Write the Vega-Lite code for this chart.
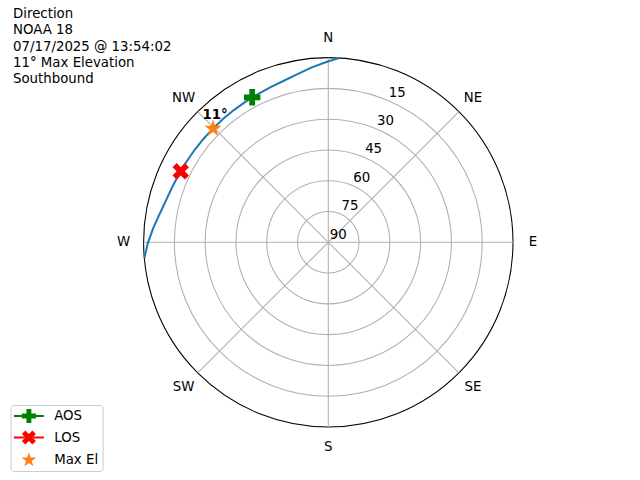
{
  "$schema": "https://vega.github.io/schema/vega-lite/v6.json",
  "width": 369.4,
  "height": 369.4,
  "autosize": {"type": "none"},
  "padding": {"left": 143.6, "top": 57.6, "right": 127, "bottom": 53},
  "background": "white",
  "config": {"view": {"stroke": null}, "font": "DejaVu Sans"},
  "title": {
    "text": ["Direction", "NOAA 18", "07/17/2025 @ 13:54:02", "11° Max Elevation", "Southbound"],
    "anchor": "start",
    "frame": "group",
    "font": "DejaVu Sans",
    "fontSize": 13.33,
    "fontWeight": "normal",
    "color": "black",
    "lineHeight": 16.3,
    "baseline": "top",
    "dx": -130.6,
    "dy": 55,
    "offset": 0
  },
  "datasets": {
    "rings": [{"el": 15, "k": "grid"}, {"el": 30, "k": "grid"}, {"el": 45, "k": "grid"}, {"el": 60, "k": "grid"}, {"el": 75, "k": "grid"}, {"el": 0, "k": "spine"}],
    "spokes": [{"az": 0}, {"az": 45}, {"az": 90}, {"az": 135}, {"az": 180}, {"az": 225}, {"az": 270}, {"az": 315}],
    "compass": [
      {"az": 0, "t": "N"}, {"az": 45, "t": "NE"}, {"az": 90, "t": "E"}, {"az": 135, "t": "SE"},
      {"az": 180, "t": "S"}, {"az": 225, "t": "SW"}, {"az": 270, "t": "W"}, {"az": 315, "t": "NW"}
    ],
    "radial": [{"el": 15}, {"el": 30}, {"el": 45}, {"el": 60}, {"el": 75}, {"el": 90}],
    "track": [
      {"i": 0, "az": 3.4, "el": 0},
      {"i": 1, "az": 359.6, "el": 2.0},
      {"i": 2, "az": 354.6, "el": 4.4},
      {"i": 3, "az": 349.6, "el": 6.7},
      {"i": 4, "az": 344.6, "el": 8.35},
      {"i": 5, "az": 339.6, "el": 9.35},
      {"i": 6, "az": 334.6, "el": 10.05},
      {"i": 7, "az": 332.3, "el": 10.2},
      {"i": 8, "az": 329.6, "el": 10.5},
      {"i": 9, "az": 324.6, "el": 10.8},
      {"i": 10, "az": 319.6, "el": 11.0},
      {"i": 11, "az": 314.6, "el": 11.1},
      {"i": 12, "az": 309.6, "el": 11.0},
      {"i": 13, "az": 304.6, "el": 10.8},
      {"i": 14, "az": 299.6, "el": 10.5},
      {"i": 15, "az": 295.7, "el": 10.2},
      {"i": 16, "az": 294.6, "el": 10.05},
      {"i": 17, "az": 289.6, "el": 9.35},
      {"i": 18, "az": 284.6, "el": 8.35},
      {"i": 19, "az": 279.6, "el": 6.7},
      {"i": 20, "az": 274.6, "el": 4.4},
      {"i": 21, "az": 269.6, "el": 2.0},
      {"i": 22, "az": 265.0, "el": 0}
    ],
    "events": [
      {"kind": "AOS", "az": 332.3, "el": 10.2},
      {"kind": "LOS", "az": 295.7, "el": 10.2},
      {"kind": "Max El", "az": 314.6, "el": 11.1}
    ],
    "maxlabel": [{"az": 314.6, "el": 11.1, "t": "11°"}]
  },
  "layer": [
    {
      "data": {"name": "rings"},
      "transform": [
        {"calculate": "90 - datum.el", "as": "r"},
        {"calculate": "0", "as": "cx"},
        {"calculate": "0", "as": "cy"}
      ],
      "mark": {"type": "point", "shape": "circle", "filled": false, "opacity": 1, "strokeWidth": 1.07},
      "encoding": {
        "x": {"field": "cx", "type": "quantitative", "scale": {"domain": [-90, 90], "nice": false, "zero": false}, "axis": null},
        "y": {"field": "cy", "type": "quantitative", "scale": {"domain": [-90, 90], "nice": false, "zero": false}, "axis": null},
        "size": {"field": "r", "type": "quantitative", "scale": {"type": "pow", "exponent": 2, "domain": [0, 90], "range": [0, 136456], "zero": true}, "legend": null},
        "stroke": {"field": "k", "type": "nominal", "scale": {"domain": ["grid", "spine"], "range": ["#b0b0b0", "#000000"]}, "legend": null}
      }
    },
    {
      "data": {"name": "spokes"},
      "transform": [
        {"calculate": "90*sin(datum.az*PI/180)", "as": "x"},
        {"calculate": "90*cos(datum.az*PI/180)", "as": "y"},
        {"calculate": "0", "as": "cx"},
        {"calculate": "0", "as": "cy"}
      ],
      "mark": {"type": "rule", "stroke": "#b0b0b0", "strokeWidth": 1.07},
      "encoding": {
        "x": {"field": "cx", "type": "quantitative"},
        "y": {"field": "cy", "type": "quantitative"},
        "x2": {"field": "x"},
        "y2": {"field": "y"}
      }
    },
    {
      "data": {"name": "track"},
      "transform": [
        {"calculate": "(90-datum.el)*sin(datum.az*PI/180)", "as": "x"},
        {"calculate": "(90-datum.el)*cos(datum.az*PI/180)", "as": "y"}
      ],
      "mark": {"type": "line", "color": "#1f77b4", "strokeWidth": 2, "clip": false},
      "encoding": {
        "x": {"field": "x", "type": "quantitative"},
        "y": {"field": "y", "type": "quantitative"},
        "order": {"field": "i", "type": "quantitative"}
      }
    },
    {
      "data": {"name": "events"},
      "transform": [
        {"calculate": "(90-datum.el)*sin(datum.az*PI/180)", "as": "x"},
        {"calculate": "(90-datum.el)*cos(datum.az*PI/180)", "as": "y"}
      ],
      "mark": {"type": "point", "filled": true, "opacity": 0, "size": 196, "strokeWidth": 0},
      "encoding": {
        "x": {"field": "x", "type": "quantitative"},
        "y": {"field": "y", "type": "quantitative"},
        "color": {
          "field": "kind", "type": "nominal",
          "scale": {"domain": ["AOS", "LOS", "Max El"], "range": ["#008000", "#ff0000", "#ff7f0e"]},
          "legend": {
            "orient": "none", "legendX": -133, "legendY": 347.4, "title": null,
            "fillColor": "white", "strokeColor": "#cccccc", "cornerRadius": 3, "padding": 4,
            "labelFont": "DejaVu Sans", "labelFontSize": 13.33, "labelColor": "black",
            "symbolSize": 196, "symbolStrokeWidth": 0, "symbolOpacity": 1, "rowPadding": 7.5, "symbolOffset": 7.3, "labelOffset": 18.3
          }
        },
        "shape": {
          "field": "kind", "type": "nominal",
          "scale": {"domain": ["AOS", "LOS", "Max El"], "range": [
            "M-0.35,-1H0.35V-0.35H1V0.35H0.35V1H-0.35V0.35H-1V-0.35H-0.35Z M-2.14,-0.14H-0.99V0.14H-2.14Z M0.99,-0.14H2.14V0.14H0.99Z",
            "M-1,-0.5L-0.5,-1L0,-0.5L0.5,-1L1,-0.5L0.5,0L1,0.5L0.5,1L0,0.5L-0.5,1L-1,0.5L-0.5,0Z M-2.14,-0.14H-0.6V0.14H-2.14Z M0.6,-0.14H2.14V0.14H0.6Z",
            "M0,-1.1L0.247,-0.34L1.046,-0.34L0.4,0.13L0.647,0.89L0,0.42L-0.647,0.89L-0.4,0.13L-1.046,-0.34L-0.247,-0.34Z"
          ]},
          "legend": {
            "orient": "none", "legendX": -133, "legendY": 347.4, "title": null,
            "fillColor": "white", "strokeColor": "#cccccc", "cornerRadius": 3, "padding": 4,
            "labelFont": "DejaVu Sans", "labelFontSize": 13.33, "labelColor": "black",
            "symbolSize": 196, "symbolStrokeWidth": 0, "symbolOpacity": 1, "rowPadding": 7.5, "symbolOffset": 7.3, "labelOffset": 18.3
          }
        }
      }
    },
    {
      "data": {"name": "events"},
      "transform": [
        {"filter": "datum.kind === 'AOS'"},
        {"calculate": "(90-datum.el)*sin(datum.az*PI/180)", "as": "x"},
        {"calculate": "(90-datum.el)*cos(datum.az*PI/180)", "as": "y"}
      ],
      "mark": {"type": "point", "filled": true, "opacity": 1, "size": 270, "strokeWidth": 0, "color": "#008000",
        "shape": "M-0.35,-1H0.35V-0.35H1V0.35H0.35V1H-0.35V0.35H-1V-0.35H-0.35Z"},
      "encoding": {
        "x": {"field": "x", "type": "quantitative"},
        "y": {"field": "y", "type": "quantitative"}
      }
    },
    {
      "data": {"name": "events"},
      "transform": [
        {"filter": "datum.kind === 'LOS'"},
        {"calculate": "(90-datum.el)*sin(datum.az*PI/180)", "as": "x"},
        {"calculate": "(90-datum.el)*cos(datum.az*PI/180)", "as": "y"}
      ],
      "mark": {"type": "point", "filled": true, "opacity": 1, "size": 270, "strokeWidth": 0, "color": "#ff0000",
        "shape": "M-1,-0.5L-0.5,-1L0,-0.5L0.5,-1L1,-0.5L0.5,0L1,0.5L0.5,1L0,0.5L-0.5,1L-1,0.5L-0.5,0Z"},
      "encoding": {
        "x": {"field": "x", "type": "quantitative"},
        "y": {"field": "y", "type": "quantitative"}
      }
    },
    {
      "data": {"name": "events"},
      "transform": [
        {"filter": "datum.kind === 'Max El'"},
        {"calculate": "(90-datum.el)*sin(datum.az*PI/180)", "as": "x"},
        {"calculate": "(90-datum.el)*cos(datum.az*PI/180)", "as": "y"}
      ],
      "mark": {"type": "point", "filled": true, "opacity": 1, "size": 270, "strokeWidth": 0, "color": "#ff7f0e",
        "shape": "M0,-1.1L0.247,-0.34L1.046,-0.34L0.4,0.13L0.647,0.89L0,0.42L-0.647,0.89L-0.4,0.13L-1.046,-0.34L-0.247,-0.34Z"},
      "encoding": {
        "x": {"field": "x", "type": "quantitative"},
        "y": {"field": "y", "type": "quantitative"}
      }
    },
    {
      "data": {"name": "maxlabel"},
      "transform": [
        {"calculate": "(90-datum.el)*sin(datum.az*PI/180)", "as": "x"},
        {"calculate": "(90-datum.el)*cos(datum.az*PI/180)", "as": "y"}
      ],
      "mark": {"type": "text", "font": "DejaVu Sans", "fontSize": 13.33, "fontWeight": "bold", "color": "black", "align": "center", "baseline": "alphabetic", "dx": 2, "dy": -9.7},
      "encoding": {
        "x": {"field": "x", "type": "quantitative"},
        "y": {"field": "y", "type": "quantitative"},
        "text": {"field": "t", "type": "nominal"}
      }
    },
    {
      "data": {"name": "compass"},
      "transform": [
        {"calculate": "99.7*sin(datum.az*PI/180)", "as": "x"},
        {"calculate": "99.7*cos(datum.az*PI/180)", "as": "y"}
      ],
      "mark": {"type": "text", "font": "DejaVu Sans", "fontSize": 13.33, "color": "black", "align": "center", "baseline": "middle"},
      "encoding": {
        "x": {"field": "x", "type": "quantitative"},
        "y": {"field": "y", "type": "quantitative"},
        "text": {"field": "t", "type": "nominal"}
      }
    },
    {
      "data": {"name": "radial"},
      "transform": [
        {"calculate": "(90-datum.el)*sin(22.5*PI/180)", "as": "x"},
        {"calculate": "(90-datum.el)*cos(22.5*PI/180)", "as": "y"},
        {"calculate": "'' + datum.el", "as": "t"}
      ],
      "mark": {"type": "text", "font": "DejaVu Sans", "fontSize": 13.33, "color": "black", "align": "left", "baseline": "alphabetic", "dx": 1.5, "dy": -3.5},
      "encoding": {
        "x": {"field": "x", "type": "quantitative"},
        "y": {"field": "y", "type": "quantitative"},
        "text": {"field": "t", "type": "nominal"}
      }
    }
  ]
}
